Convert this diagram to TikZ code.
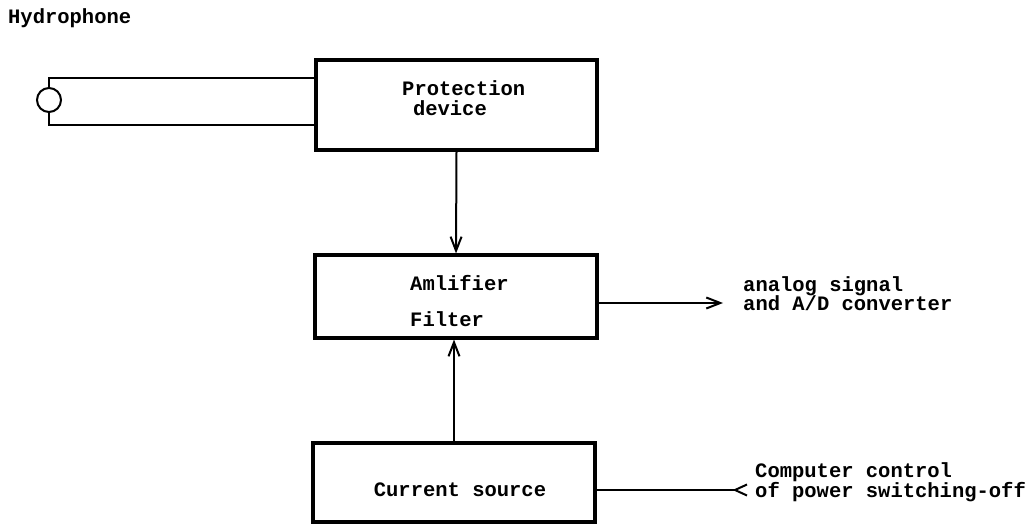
\documentclass[tikz,border=0pt]{standalone}
\usepackage{fontspec}
\setmonofont{Liberation Mono}
\usetikzlibrary{arrows.meta}
\begin{document}
\begin{tikzpicture}[x=1pt,y=-1pt,
  every node/.style={font=\ttfamily\bfseries\fontsize{20.5}{20}\selectfont, inner sep=0pt},
  conn/.style={line width=2pt},
  arr/.style={conn, -{Straight Barb[length=14pt,width=11pt,line width=2pt]}},
  txt/.style={align=left}
]
\useasboundingbox (0,0) rectangle (1034,529);
% blocks
\node[draw, line width=3.2pt, minimum width=281pt, minimum height=90pt] (prot) at (456.5,105) {};
\node[draw, line width=3.2pt, minimum width=282pt, minimum height=83pt] (amp) at (456,296.5) {};
\node[draw, line width=3.2pt, minimum width=282pt, minimum height=79pt] (cs) at (454,482.5) {};
% texts
\node[txt, anchor=west] (hydlabel) at (8,18) {Hydrophone};
\node[txt, anchor=north west] (prottext) at (402,80) {Protection\\\hspace{1ex}device};
\node[txt, anchor=north west] (amptext) at (410,275) {Amlifier\\[16pt]Filter};
\node[txt] (cstext) at (460,490) {Current source};
\node[txt, anchor=north west] (outtext) at (743,276) {analog signal\\[-1pt]and A/D converter};
\node[txt, anchor=north west] (ctltext) at (755,462) {Computer control\\of power switching-off};
% hydrophone
\node[draw, circle, line width=2pt, minimum size=24pt] (hyd) at (49,100) {};
\coordinate (htop) at (316,78);
\coordinate (hbot) at (316,125);
\draw[conn] (hyd.north) |- (prot.west |- htop);
\draw[conn] (hyd.south) |- (prot.west |- hbot);
% connectors
\draw[arr] (prot.south) -- (amp.north);
\draw[arr] (cs.north) -- (cs.north |- amp.south);
\coordinate (outend) at (723,303);
\draw[arr] (amp.east |- outend) -- (outend);
\coordinate (ctlend) at (748,490);
\draw[conn, -{Straight Barb[reversed,length=12pt,width=11pt,line width=2pt]}] (cs.east |- ctlend) -- (ctlend);
\end{tikzpicture}
\end{document}
